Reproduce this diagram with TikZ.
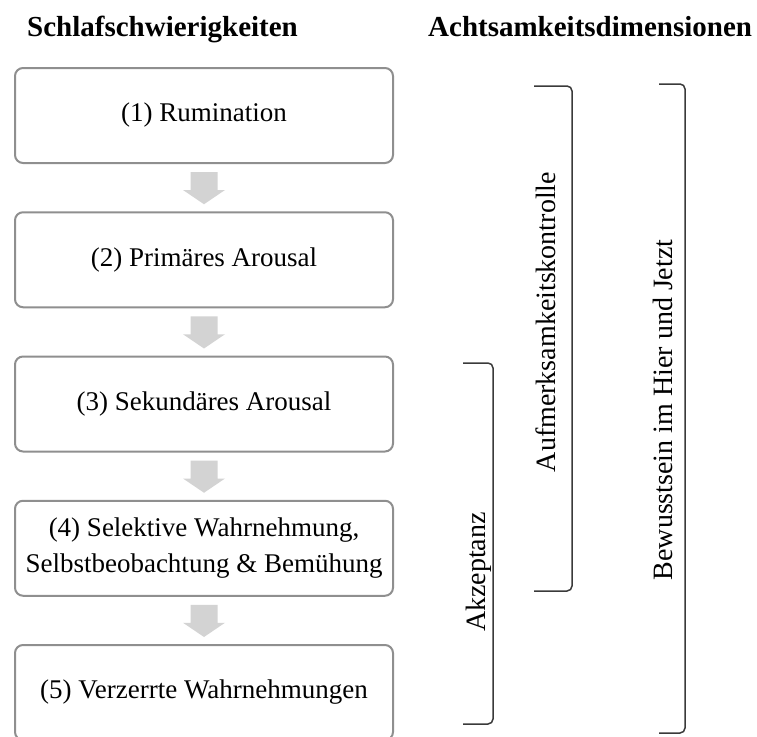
\documentclass[tikz,border=0pt]{standalone}
\usepackage{fontspec}
\setmainfont{Liberation Serif}
\usetikzlibrary{calc}
\definecolor{boxgray}{HTML}{8F8F8F}
\definecolor{arrowgray}{HTML}{D3D3D3}
\definecolor{brkgray}{HTML}{3A3A3A}
\begin{document}
\begin{tikzpicture}[x=1pt,y=-1pt,
  box/.style={draw=boxgray, line width=2pt, rounded corners=8pt,
    minimum width=378pt, minimum height=95pt, anchor=north west,
    inner sep=0pt, align=center, font=\fontsize{27}{36}\selectfont},
  arrowfill/.style={fill=arrowgray},
  head/.style={anchor=base west, inner sep=0pt, font=\fontsize{29}{34}\selectfont\bfseries},
  rot/.style={anchor=base, rotate=90, inner sep=0pt, font=\fontsize{28}{34}\selectfont},
  brk/.style={draw=brkgray, line width=1.5pt, rounded corners=5pt}]
\useasboundingbox (0,0) rectangle (757,736);
\node[head] (h1) at (27,36) {Schlafschwierigkeiten};
\node[head] (h2) at (428,36) {Achtsamkeitsdimensionen};
\node[box] (b1) at (14,67) {(1) Rumination};
\node[box] (b2) at (14,211.25) {(2) Primäres Arousal};
\node[box] (b3) at (14,355.5) {(3) Sekundäres Arousal};
\node[box] (b4) at (14,499.75) {(4) Selektive Wahrnehmung,\\Selbstbeobachtung \& Bemühung};
\node[box] (b5) at (14,644) {(5) Verzerrte Wahrnehmungen};
\foreach \a/\b in {b1/b2,b2/b3,b3/b4,b4/b5}{
  \fill[arrowfill] ($(\a.south)+(-13.5,8)$) -- ($(\a.south)+(13.5,8)$)
    -- ($(\a.south)+(13.5,26)$) -- ($(\a.south)+(21,26)$)
    -- ($(\b.north)+(0,-7)$) -- ($(\a.south)+(-21,26)$)
    -- ($(\a.south)+(-13.5,26)$) -- cycle;
}
\node[rot] (akz) at (485,572) {Akzeptanz};
\node[rot] (auf) at (555,322) {Aufmerksamkeitskontrolle};
\node[rot] (bew) at (672,410) {Bewusstsein im Hier und Jetzt};
\draw[brk] (463,363) -- (493,363) -- (493,724) -- (463,724);
\draw[brk] (534,86) -- (572,86) -- (572,591) -- (534,591);
\draw[brk] (659,84) -- (685,84) -- (685,733) -- (659,733);
\end{tikzpicture}
\end{document}
